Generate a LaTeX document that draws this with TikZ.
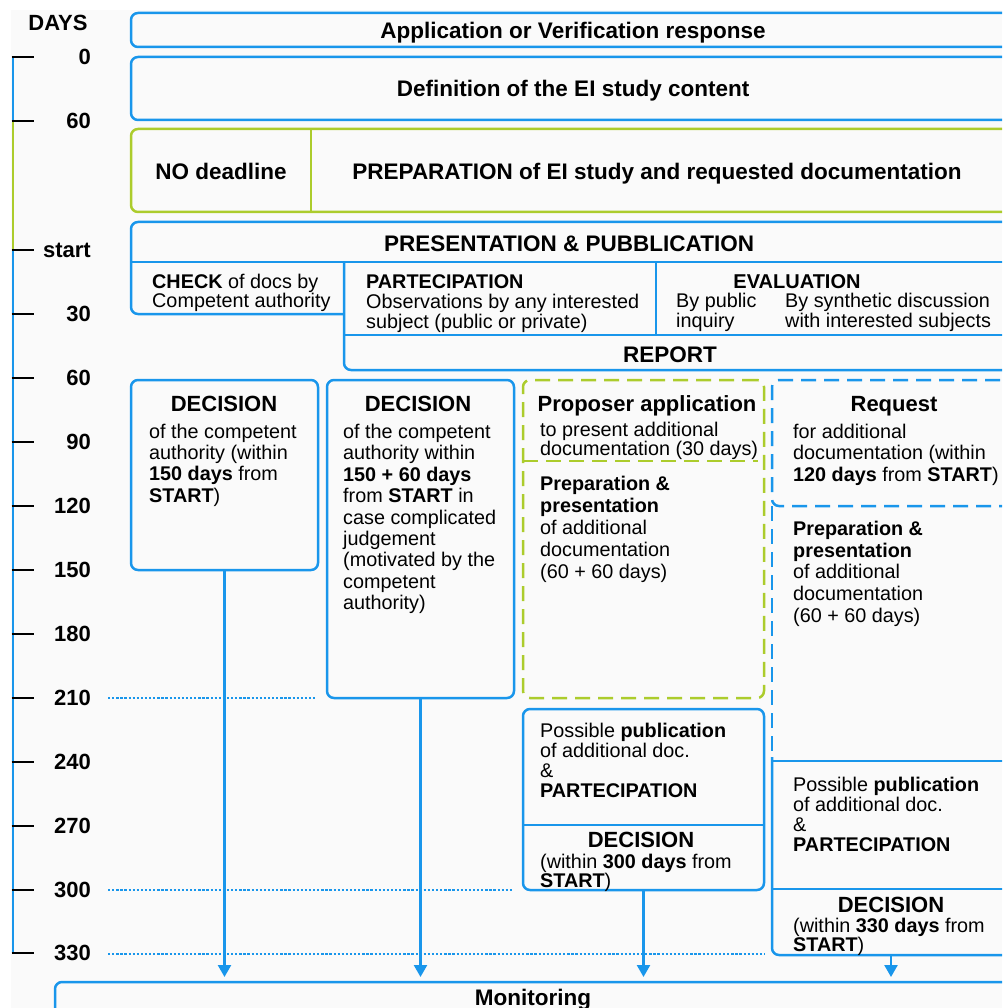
\documentclass[tikz,border=0pt]{standalone}
\usepackage{fontspec}
\setmainfont{Liberation Sans}
\usetikzlibrary{arrows.meta,fit}
\definecolor{lineblue}{RGB}{25,150,235}
\definecolor{linegreen}{RGB}{172,204,44}
\definecolor{paper}{RGB}{250,250,250}
% fixed first-line height for multi-line text blocks
\newcommand\ls{\rule{0pt}{15pt}}

\begin{document}
\begin{tikzpicture}[x=1pt,y=-1pt,
  bline/.style={draw=lineblue, line width=2.5pt},
  box/.style={draw=lineblue, line width=2.5pt, rounded corners=7pt, inner sep=0pt, outer sep=0pt},
  gbox/.style={draw=linegreen, line width=2.5pt, rounded corners=7pt, inner sep=0pt, outer sep=0pt},
  place/.style={draw=none, inner sep=0pt, outer sep=0pt},
  bdash/.style={dash pattern=on 15pt off 8pt},
  dotline/.style={draw=lineblue, line width=2.2pt, dash pattern=on 2.3pt off 1.8pt},
  tick/.style={draw=black, line width=2.4pt},
  flow/.style={draw=lineblue, line width=2.4pt, -{Triangle[width=13pt,length=12pt]}, shorten >=5pt},
  head/.style={font=\fontsize{22.5}{24}\selectfont\bfseries, text height=16.1pt, text depth=0pt, inner sep=0pt},
  dechead/.style={font=\fontsize{22}{24}\selectfont\bfseries, text height=15.75pt, text depth=0pt, inner sep=0pt},
  subhead/.style={font=\fontsize{20}{22}\selectfont\bfseries, text height=14.3pt, text depth=0pt, inner sep=0pt},
  txt/.style={font=\fontsize{19.8}{#1}\selectfont, align=left, anchor=north west, inner sep=0pt}
]
\useasboundingbox (0,0) rectangle (1002,1008);
\clip (0,0) rectangle (1002,1008);
\fill[white] (0,0) rectangle (1002,1008);
\fill[paper] (11,10) rectangle (1002,1008);

% ---- time axis ----
\draw[lineblue, line width=2.6pt] (13,57) -- (13,121);
\draw[linegreen, line width=2.6pt] (13,121) -- (13,250);
\draw[lineblue, line width=2.6pt] (13,250) -- (13,953);
\node[dechead] (tdays) at (58,23) {DAYS};
\foreach \y/\l [count=\i] in {57/0,121/60,250/start,314/30,378/60,442/90,506/120,570/150,634/180,698/210,762/240,826/270,890/300,953/330}{
  \draw[tick] (11.7,\y) -- (34,\y);
  \node[dechead, anchor=east] (day\i) at (91,\y) {\l};
}
\draw[dotline] (108,698) -- (316,698);
\draw[dotline] (108,890) -- (512,890);
\draw[dotline] (108,954) -- (765,954);

% ---- upper stages ----
\node[box, fit={(131,13) (1030,47)}] (app) {};
\node[head] (tapp) at (573,30) {Application or Verification response};
\node[box, fit={(131,57) (1030,120)}] (def) {};
\node[head] (tdef) at (573,88) {Definition of the EI study content};
\node[gbox, fit={(131,129) (1030,212)}] (prepbox) {};
\draw[linegreen, line width=2.5pt] (311,129) -- (311,212);
\node[head] (tno) at (221,171) {NO deadline};
\node[head] (tprep) at (657,171) {PREPARATION of EI study and requested documentation};

% ---- presentation block ----
\node[place, fit={(131,222) (1030,370)}] (pres) {};
\draw[box] (1030,222) -- (131,222) -- (131,314) -- (344,314);
\draw[box] (344,262) -- (344,370) -- (1030,370);
\draw[bline] (131,262) -- (1030,262);
\draw[bline] (344,335) -- (1030,335);
\draw[bline] (656,262) -- (656,335);
\node[head] (tpres) at (569,243) {PRESENTATION \& PUBBLICATION};
\node[txt=19] (tcheck) at (152,273.3) {\ls\textbf{CHECK} of docs by\\Competent authority};
\node[txt=20] (tpart) at (366,273.3) {\ls\textbf{PARTECIPATION}\\Observations by any interested\\subject (public or private)};
\node[subhead] (teval) at (797,281) {EVALUATION};
\node[txt=20] (tinq) at (676,292.3) {\ls By public\\inquiry};
\node[txt=20] (tsyn) at (785,292.3) {\ls By synthetic discussion\\with interested subjects};
\node[head] (trep) at (670,354) {REPORT};

% ---- decision columns ----
\node[box, fit={(131,380) (318,570)}] (dec1) {};
\node[dechead] (tdec1) at (224,403.5) {DECISION};
\node[txt=21.2] (tdec1b) at (149,423.3) {\ls of the competent\\authority (within\\\textbf{150 days} from\\\textbf{START})};

\node[box, fit={(327,380) (514,698)}] (dec2) {};
\node[dechead] (tdec2) at (418,403.5) {DECISION};
\node[txt=21.4] (tdec2b) at (343,423.3) {\ls of the competent\\authority within\\\textbf{150 + 60 days}\\from \textbf{START} in\\case complicated\\judgement\\(motivated by the\\competent\\authority)};

\node[gbox, bdash, fit={(523,380) (764,698)}] (prop) {};
\draw[linegreen, line width=2.5pt, bdash] (523,461) -- (758,461);
\node[dechead] (tprop) at (647,403.5) {Proposer application};
\node[txt=19] (tpropb) at (540,421.7) {\ls to present additional\\documentation (30 days)};
\node[txt=21.8] (tgprep) at (540,475.7) {\ls\textbf{Preparation \&}\\\textbf{presentation}\\of additional\\documentation\\(60 + 60 days)};

\node[box, bdash, fit={(772,380) (1030,506)}] (req) {};
\draw[bline, bdash] (772,506) -- (772,757);
\node[dechead] (treq) at (894,403.5) {Request};
\node[txt=21.3] (treqb) at (793,423.3) {\ls for additional\\documentation (within\\\textbf{120 days} from \textbf{START})};
\node[txt=21.8] (tbprep) at (793,520) {\ls\textbf{Preparation \&}\\\textbf{presentation}\\of additional\\documentation\\(60 + 60 days)};

\node[box, fit={(523,709) (764,890)}] (pub3) {};
\draw[bline] (523,825) -- (764,825);
\node[txt=20.1] (tpub3) at (540,722.3) {\ls Possible \textbf{publication}\\of additional doc.\\\&\\\textbf{PARTECIPATION}};
\node[dechead] (tdec3) at (641,839.5) {DECISION};
\node[txt=19] (tdec3b) at (540,853.3) {\ls(within \textbf{300 days} from\\\textbf{START})};

\node[place, fit={(772,761) (1030,955)}] (pub4) {};
\draw[bline] (772,761) -- (1030,761);
\draw[box] (772,757) -- (772,955) -- (1030,955);
\draw[bline] (772,889) -- (1030,889);
\node[txt=20] (tpub4) at (793,776.7) {\ls Possible \textbf{publication}\\of additional doc.\\\&\\\textbf{PARTECIPATION}};
\node[dechead] (tdec4) at (891,905) {DECISION};
\node[txt=19.4] (tdec4b) at (793,917.3) {\ls(within \textbf{330 days} from\\\textbf{START})};

% ---- monitoring ----
\node[box, fit={(55,982) (1040,1040)}] (mon) {};
\node[head] (tmon) at (533,997) {Monitoring};

\coordinate (p4) at (891,955);
\draw[flow] (dec1.south) -- (dec1.south |- mon.north);
\draw[flow] (dec2.south) -- (dec2.south |- mon.north);
\draw[flow] (pub3.south) -- (pub3.south |- mon.north);
\draw[flow] (p4) -- (p4 |- mon.north);
\end{tikzpicture}
\end{document}
